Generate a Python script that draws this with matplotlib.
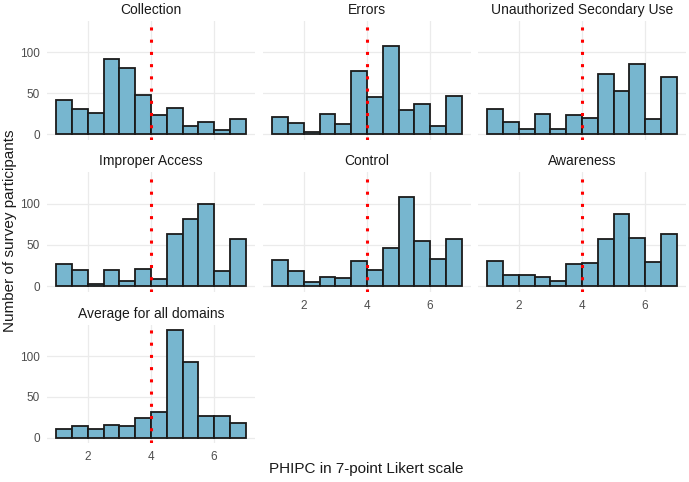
import numpy as np
import matplotlib
matplotlib.use("Agg")
import matplotlib.pyplot as plt

plt.rcParams["font.family"] = ["Liberation Sans", "DejaVu Sans"]

# 12 bins of width 0.5 between 1 and 7
bin_edges = np.arange(1.0, 7.01, 0.5)

domains = ["Collection", "Errors", "Unauthorized Secondary Use",
           "Improper Access", "Control", "Awareness", "Average for all domains"]

collection = [42, 31, 26, 92, 81, 48, 23, 32, 10, 15, 5, 19]
errors = [21, 14, 3, 24, 12, 77, 45, 107, 29, 37, 10, 46]
secondary_use = [31, 15, 6, 24, 6, 23, 20, 73, 53, 85, 18, 70]
improper_access = [27, 19, 2, 20, 6, 21, 9, 63, 82, 100, 18, 57]
control = [32, 18, 5, 11, 10, 30, 19, 46, 108, 55, 33, 57]
awareness = [30, 14, 13, 11, 6, 27, 28, 57, 87, 59, 29, 63]
average_all = [10, 14, 11, 16, 14, 24, 31, 132, 93, 27, 27, 18]

counts = [collection, errors, secondary_use, improper_access,
          control, awareness, average_all]

cutoff = 4
x_ticks = [2, 4, 6]
y_ticks = [0, 50, 100]

W, H = 689, 482
fig = plt.figure(figsize=(W / 100, H / 100), dpi=100)

# panel boxes in pixels (left/right, top/bottom)
col_x = [(47, 255), (263, 471), (478, 686)]
row_y = [(20.5, 139.5), (172, 291.5), (324.5, 443)]

ymax = max(max(c) for c in counts)
ylim = (-0.05 * ymax, 1.05 * ymax)
xlim = (1 - 0.05 * 6, 7 + 0.05 * 6)

fill = "#77B6CF"
grey_txt = "#4D4D4D"

for i, (name, vals) in enumerate(zip(domains, counts)):
    r, c = divmod(i, 3)
    x0, x1 = col_x[c]
    y0, y1 = row_y[r]
    ax = fig.add_axes([x0 / W, 1 - y1 / H, (x1 - x0) / W, (y1 - y0) / H])
    ax.set_xlim(*xlim)
    ax.set_ylim(*ylim)
    for s in ax.spines.values():
        s.set_visible(False)
    ax.set_xticks(x_ticks)
    ax.set_yticks(y_ticks)
    ax.grid(True, color="#EBEBEB", linewidth=0.9)
    ax.set_axisbelow(True)
    ax.tick_params(axis="x", length=0, labelsize=8.5, labelcolor=grey_txt, pad=6)
    ax.tick_params(axis="y", length=0, labelsize=8.5, labelcolor=grey_txt, pad=5)

    ax.bar(bin_edges[:-1], vals, width=0.5, align="edge",
           color=fill, edgecolor="#1A1A1A", linewidth=1.3, zorder=2)
    ax.axvline(cutoff, color="red", linestyle=(0, (1, 3)), linewidth=2.2, zorder=3)

    ax.set_title(name, fontsize=10, color="#1A1A1A", pad=5)

    if c != 0:
        ax.set_yticklabels([])
    bottom_of_col = (r == 2) or (r == 1 and c > 0)
    if not bottom_of_col:
        ax.set_xticklabels([])

fig.text((47 + 686) / 2 / W, 1 - 469 / H, "PHIPC in 7-point Likert scale",
         ha="center", va="center", fontsize=11, color="#1A1A1A")
fig.text(10 / W, 1 - 231 / H, "Number of survey participants",
         ha="center", va="center", rotation=90, fontsize=11, color="#1A1A1A")

fig.savefig("out.png", dpi=100, facecolor="white")
